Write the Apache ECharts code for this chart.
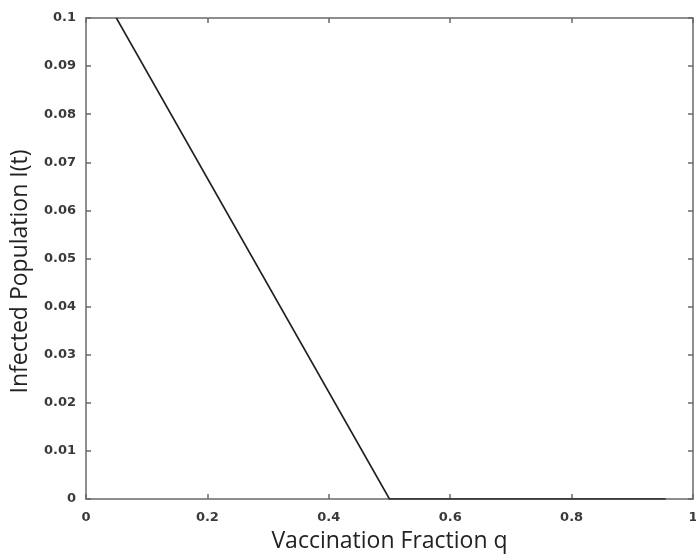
<!DOCTYPE html>
<html><head><meta charset="utf-8">
<script src="https://cdn.jsdelivr.net/npm/echarts@6/dist/echarts.min.js"></script>
<style>html,body{margin:0;padding:0;background:#fff}#c{width:696px;height:554px}</style>
</head><body><div id="c"></div>
<script>
const qValues = [0.05, 0.5, 0.955];
const infected = [0.1, 0, 0];
const xTickLabels = ['0', '0.2', '0.4', '0.6', '0.8', '1'];
const yTickLabels = ['0', '0.01', '0.02', '0.03', '0.04', '0.05', '0.06', '0.07', '0.08', '0.09', '0.1'];
const xTitle = 'Vaccination Fraction q';
const yTitle = 'Infected Population I(t)';

const titleFont = 'Open Sans';
const tickFont = 'DejaVu Sans';
const axisCol = '#6a6a6a';
const labelStyle = {color: '#3a3a3a', fontSize: 13, fontWeight: 'bold', fontFamily: tickFont};
const chart = echarts.init(document.getElementById('c'));
const common = {
  axisLine: {show: true, onZero: false, lineStyle: {color: axisCol, width: 1.5}},
  axisTick: {show: true, inside: true, length: 5, lineStyle: {color: axisCol, width: 1.5}},
  splitLine: {show: false}
};
chart.setOption({
  animation: false,
  grid: {left: 86, right: 3, top: 18, bottom: 55, containLabel: false, outerBoundsMode: 'none'},
  xAxis: [
    Object.assign({type: 'value', min: 0, max: 1, interval: 0.2, position: 'bottom',
      name: xTitle, nameLocation: 'middle', nameGap: 31,
      nameTextStyle: {color: '#222', fontSize: 23, fontFamily: titleFont},
      axisLabel: Object.assign({margin: 12, formatter: v => xTickLabels[Math.round(v / 0.2)]}, labelStyle)}, common),
    Object.assign({type: 'value', min: 0, max: 1, interval: 0.2, position: 'top',
      axisLabel: {show: false}}, common)
  ],
  yAxis: [
    Object.assign({type: 'value', min: 0, max: 0.1, interval: 0.01, position: 'left',
      name: yTitle, nameLocation: 'middle', nameGap: 54,
      nameTextStyle: {color: '#222', fontSize: 23, fontFamily: titleFont, padding: [0, 26, 0, 0]},
      axisLabel: Object.assign({margin: 10, formatter: v => yTickLabels[Math.round(v / 0.01)]}, labelStyle)}, common),
    Object.assign({type: 'value', min: 0, max: 0.1, interval: 0.01, position: 'right',
      axisLabel: {show: false}}, common)
  ],
  series: [{
    type: 'line',
    data: qValues.map((q, i) => [q, infected[i]]),
    showSymbol: false,
    lineStyle: {color: '#222', width: 1.6},
    z: 5
  }]
});
</script></body></html>
